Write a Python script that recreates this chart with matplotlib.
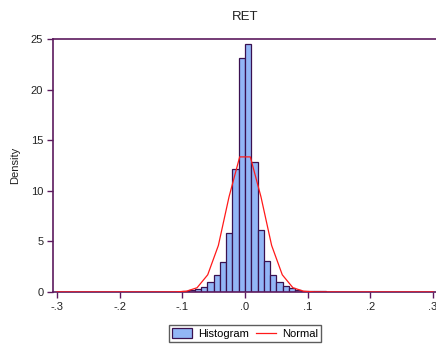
import numpy as np
import matplotlib.pyplot as plt
from matplotlib.patches import Patch
from matplotlib.lines import Line2D

plt.rcParams['font.family'] = ['Liberation Sans', 'DejaVu Sans']

# histogram bins (left edges, width 0.01) and densities
bin_left = np.round(np.arange(-0.30, 0.295, 0.01), 2)
density = np.array(
    [0.01] * 10                                                         # -.30 .. -.21
    + [0.01, 0.01, 0.01, 0.01, 0.01, 0.02, 0.02, 0.02, 0.03, 0.04]      # -.20 .. -.11
    + [0.12, 0.20, 0.33, 0.53, 0.99, 1.65, 2.93, 5.80, 12.2, 23.1]      # -.10 .. -.01
    + [24.5, 12.8, 6.10, 3.06, 1.68, 1.02, 0.63, 0.36, 0.22, 0.13]      # .00 .. .09
    + [0.08, 0.06, 0.05, 0.04, 0.03, 0.02, 0.02, 0.02, 0.01, 0.01]      # .10 .. .19
    + [0.01] * 10                                                       # .20 .. .29
)

# normal overlay, vertices
normal_x = [-0.30, -0.15, -0.1105, -0.0935, -0.0765, -0.0595, -0.0425, -0.0255, -0.0085,
            0.0085, 0.0255, 0.0425, 0.0595, 0.0765, 0.0935, 0.1105, 0.15, 0.30]
normal_y = [0.0, 0.0, 0.01, 0.08, 0.42, 1.7, 4.6, 9.4, 13.35,
            13.35, 9.4, 4.6, 1.7, 0.42, 0.08, 0.01, 0.0, 0.0]

xticks = [-0.3, -0.2, -0.1, 0.0, 0.1, 0.2, 0.3]
xtick_labels = ["-.3", "-.2", "-.1", ".0", ".1", ".2", ".3"]
yticks = [0, 5, 10, 15, 20, 25]

bar_face = "#92b6f6"
bar_edge = "#3a1150"
axis_col = "#5c1a5e"

fig = plt.figure(figsize=(4.36, 3.45), dpi=100)
ax = fig.add_axes([53 / 436, 1 - 292 / 345, 384 / 436, 253 / 345])

ax.bar(bin_left, density, width=0.01, align="edge", color=bar_face,
       edgecolor=bar_edge, linewidth=0.9, zorder=2)
ax.plot(normal_x, normal_y, color="#ff1a1a", linewidth=0.9, zorder=3)

ax.set_xlim(-0.3064, 0.3064)
ax.set_ylim(0, 25)
ax.set_xticks(xticks)
ax.set_xticklabels(xtick_labels)
ax.set_yticks(yticks)
ax.tick_params(axis="both", direction="out", length=4, width=1, color=axis_col,
               labelsize=8, labelcolor="#222222", pad=3)
for s in ax.spines.values():
    s.set_color(axis_col)
    s.set_linewidth(1.2)

ax.set_ylabel("Density", fontsize=8, color="#222222", labelpad=8)
ax.set_title("RET", fontsize=9.5, color="#222222", pad=14)

handles = [Patch(facecolor=bar_face, edgecolor=bar_edge, linewidth=0.9),
           Line2D([0], [0], color="#ff1a1a", linewidth=0.9)]
leg = fig.legend(handles, ["Histogram", "Normal"], loc="center",
                 bbox_to_anchor=(245 / 436, 1 - 333.5 / 345), ncol=2, fontsize=8,
                 frameon=True, fancybox=False, edgecolor="#333333",
                 handlelength=1.8, handleheight=0.9, columnspacing=0.7,
                 handletextpad=0.5, borderpad=0.3)
leg.get_frame().set_linewidth(1.0)

fig.savefig("out.png", dpi=100)
